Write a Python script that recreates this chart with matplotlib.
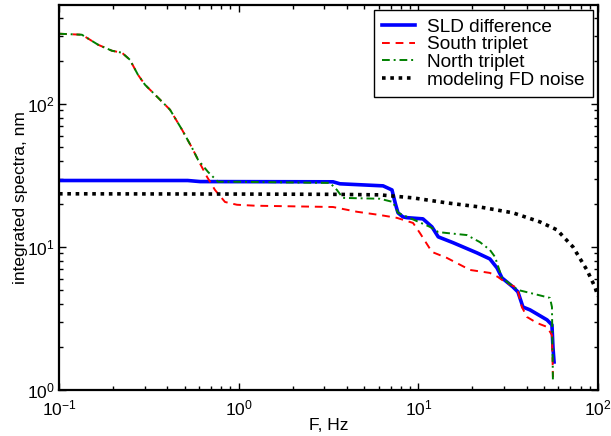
import numpy as np
import matplotlib
matplotlib.use("Agg")
import matplotlib.pyplot as plt

plt.rcParams['font.family'] = ['Liberation Sans', 'DejaVu Sans']
plt.rcParams['mathtext.fontset'] = 'custom'
plt.rcParams['mathtext.rm'] = 'Liberation Sans'
plt.rcParams['mathtext.it'] = 'Liberation Sans:italic'
plt.rcParams['font.size'] = 12.5

# SLD difference
sld_f = [0.1, 0.52, 0.61, 3.35, 3.66, 6.36, 7.13, 7.45, 7.70, 8.21, 8.64, 10.6, 11.9,
         12.9, 15.6, 21.2, 25.0, 27.4, 29.2, 33.6, 35.8, 38.2, 41.8, 52.0, 55.4, 56.1, 56.9]
sld_v = [29.1, 29.1, 28.6, 28.5, 27.6, 26.7, 25.0, 20.0, 17.3, 16.2, 16.0, 15.7, 13.8,
         11.75, 10.7, 9.08, 8.24, 7.13, 6.07, 5.25, 4.85, 3.80, 3.63, 3.09, 2.85, 2.0, 1.57]

# South triplet
south_f = [0.1, 0.134, 0.165, 0.197, 0.224, 0.248, 0.275, 0.301, 0.356, 0.415, 0.484,
           0.550, 0.594, 0.666, 0.738, 0.839, 0.978, 1.233, 3.35, 4.55, 6.11, 7.60, 9.34,
           10.2, 11.9, 14.4, 19.4, 25.0, 27.7, 30.3, 35.4, 37.7, 40.2, 45.7, 52.0, 55.4, 56.1]
south_v = [308.7, 303.8, 258.6, 234.8, 227.4, 203.1, 159.5, 135.8, 110.2, 90.8, 65.8,
           49.2, 40.6, 30.9, 25.0, 20.6, 19.7, 19.4, 19.0, 17.6, 16.7, 15.95, 14.7,
           12.5, 9.22, 8.38, 6.90, 6.58, 6.17, 5.69, 5.17, 3.80, 3.24, 2.94, 2.76, 2.42, 1.23]

# North triplet
north_f = [0.1, 0.134, 0.165, 0.197, 0.224, 0.248, 0.275, 0.301, 0.356, 0.415, 0.484,
           0.550, 0.594, 0.675, 0.767, 1.0, 3.22, 3.52, 3.80, 6.11, 7.22, 7.70, 11.6, 12.9,
           14.4, 18.6, 22.0, 25.0, 26.7, 29.2, 35.8, 41.8, 54.0, 55.4, 56.1]
north_v = [308.7, 303.8, 258.6, 234.8, 227.4, 203.1, 159.5, 135.8, 110.2, 90.8, 65.8,
           49.2, 40.6, 33.4, 28.5, 28.5, 28.0, 25.0, 22.0, 21.7, 20.6, 17.3, 13.8, 12.7,
           12.5, 12.1, 10.8, 9.53, 8.51, 6.07, 5.0, 4.77, 4.40, 3.80, 1.14]

# modeling FD noise
noise_f = [0.1, 1.0, 3.3, 6.11, 9.34, 14.4, 22.0, 33.6, 47.5, 59.1, 72.5, 86.7, 96.1, 100]
noise_v = [23.5, 23.4, 23.3, 23.1, 22.0, 20.3, 19.0, 17.3, 14.95, 13.15, 10.0, 6.9, 5.25, 4.5]

fig = plt.figure(figsize=(6.11, 4.36), dpi=100)
ax = fig.add_axes([0.0966, 0.1055, 0.8822, 0.883])

ax.plot(sld_f, sld_v, color='#0000ff', lw=2.6, label='SLD difference')
ax.plot(south_f, south_v, color='#ff0000', lw=1.4, ls=(0, (4, 3)), label='South triplet')
ax.plot(north_f, north_v, color='#008000', lw=1.4, ls=(0, (4, 2, 1, 2)), label='North triplet')
ax.plot(noise_f, noise_v, color='black', lw=2.6, ls=(0, (1, 1.3)), label='modeling FD noise')

ax.set_xscale('log')
ax.set_yscale('log')
ax.set_xlim(0.1, 100)
ax.set_ylim(1, 490)
ax.set_xlabel('F, Hz', labelpad=0)
ax.set_ylabel('integrated spectra, nm', labelpad=-1)

ax.tick_params(which='both', direction='in', top=True, right=True, width=1)
ax.tick_params(which='major', length=5)
ax.tick_params(which='minor', length=3)
ax.tick_params(axis='x', pad=6)
ax.tick_params(axis='y', pad=3)
for s in ax.spines.values():
    s.set_linewidth(1.6)

leg = ax.legend(loc='upper right', fancybox=False, edgecolor='black', framealpha=1,
                fontsize=13.7, borderaxespad=0.28, handlelength=1.75, labelspacing=0.02,
                borderpad=0.42, handletextpad=0.65)
leg.get_frame().set_linewidth(1.0)

fig.savefig('out.png', dpi=100)
